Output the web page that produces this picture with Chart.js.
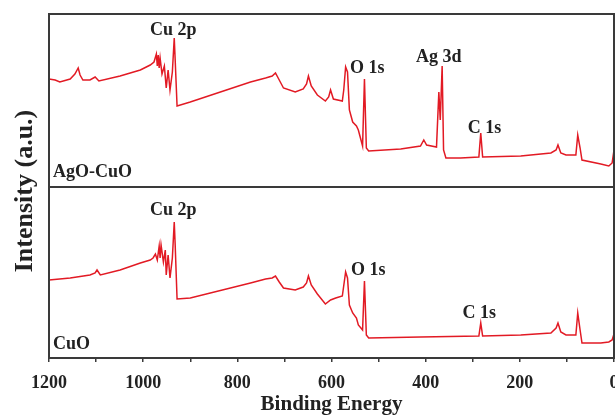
<!DOCTYPE html>
<html>
<head>
<meta charset="utf-8">
<script src="https://cdn.jsdelivr.net/npm/chart.js@4.4.1/dist/chart.umd.min.js"></script>
<style>
  html, body { margin: 0; padding: 0; background: #fff; }
</style>
</head>
<body>
<canvas id="xps" width="615" height="417"></canvas>
<script>
// XPS survey spectra, binding energy (eV) vs intensity (a.u.)
const energyAgCu = [1200, 1187, 1177, 1155, 1145, 1138, 1134, 1128, 1113, 1102, 1094, 1049, 1006, 985, 977,
  972, 970, 968, 966, 964, 960, 955, 951, 947, 943, 938, 934, 932, 928, 900, 772, 740, 726, 719, 711, 702,
  677, 660, 653, 649, 643, 630, 613, 606, 602, 596, 577, 574, 570, 566, 562, 555, 547, 543, 534, 530, 526,
  521, 453, 411, 404, 398, 377, 372, 369, 365, 362, 357, 326, 287, 283, 279, 198, 134, 123, 119, 113, 102,
  81, 77, 72, 68, 28, 11, 4, 0];
const intensityAgCu = [108, 107, 105, 108, 113, 119, 112, 107, 107, 110, 106, 111, 117, 122, 125,
  133, 121, 132, 119, 129, 113, 121, 99, 117, 97, 115, 149, 127, 81, 85, 105, 109, 111, 114, 107, 99,
  95, 98, 103, 111, 101, 92, 86, 90, 97, 88, 86, 97, 120, 115, 77, 65, 61, 57, 41, 108, 39,
  36, 38, 41, 47, 42, 40, 95, 67, 121, 37, 29, 29, 30, 54, 30, 31, 34, 37, 42, 34, 32,
  32, 52, 39, 27, 23, 21, 24, 37];

const energyCuO = [1200, 1155, 1113, 1102, 1098, 1091, 1049, 1006, 985, 979, 974, 970, 966, 964, 962,
  957, 953, 951, 947, 943, 938, 934, 932, 928, 900, 772, 740, 726, 719, 711, 702, 677, 660, 653, 649,
  643, 630, 613, 602, 591, 577, 570, 566, 562, 555, 547, 543, 534, 530, 526, 521, 411, 287, 283, 279,
  198, 134, 123, 119, 113, 102, 81, 77, 72, 68, 28, 11, 4, 0];
const intensityCuO = [78, 80, 83, 85, 88, 83, 88, 95, 98, 100, 104, 98, 112, 100, 113,
  96, 108, 83, 103, 80, 100, 136, 113, 59, 60, 75, 79, 80, 82, 76, 70, 68, 71, 75, 82,
  73, 64, 54, 58, 60, 62, 86, 80, 53, 45, 40, 33, 28, 77, 23, 20, 21, 22, 35, 22,
  23, 25, 30, 35, 26, 23, 23, 45, 28, 15, 15, 16, 18, 24];

const energyTicks = [1200, 1000, 800, 600, 400, 200, 0];

// peak annotations: name, panel, binding energy, height in that panel
const peakNames = ['Cu 2p', 'O 1s', 'Ag 3d', 'C 1s', 'Cu 2p', 'O 1s', 'C 1s'];
const peakPanel = ['yTop', 'yTop', 'yTop', 'yTop', 'yBot', 'yBot', 'yBot'];
const peakEnergy = [936, 524, 372, 275, 936, 522, 286];
const peakHeight = [157, 119, 130, 59, 148, 88, 45];

const sampleNames = ['AgO-CuO', 'CuO'];

const serif = '"Liberation Serif", "DejaVu Serif", serif';
const ink = '#222';
const red = 'rgb(226, 26, 36)';

const toPoints = (xs, ys) => xs.map((x, i) => ({ x: x, y: ys[i] }));

const decor = {
  id: 'decor',
  afterDraw(chart) {
    const { ctx, chartArea: a, scales } = chart;
    const x = scales.x;
    ctx.save();
    // frame and divider between the two spectra
    ctx.strokeStyle = '#3a3a3a';
    ctx.lineWidth = 2;
    ctx.strokeRect(a.left, a.top, a.right - a.left, a.bottom - a.top);
    ctx.beginPath();
    ctx.moveTo(a.left, scales.yTop.bottom);
    ctx.lineTo(a.right, scales.yTop.bottom);
    ctx.stroke();

    ctx.fillStyle = ink;
    ctx.font = 'bold 18px ' + serif;
    ctx.textAlign = 'center';
    ctx.textBaseline = 'middle';
    peakNames.forEach((name, i) => {
      ctx.fillText(name, x.getPixelForValue(peakEnergy[i]), scales[peakPanel[i]].getPixelForValue(peakHeight[i]));
    });

    ctx.textAlign = 'left';
    ctx.textBaseline = 'bottom';
    ctx.fillText(sampleNames[0], a.left + 4, scales.yTop.bottom - 6);
    ctx.fillText(sampleNames[1], a.left + 4, scales.yBot.bottom - 5);

    // y title spanning both panels
    ctx.translate(25, (a.top + a.bottom) / 2 + 5);
    ctx.rotate(-Math.PI / 2);
    ctx.textAlign = 'center';
    ctx.textBaseline = 'middle';
    ctx.font = 'bold 26px ' + serif;
    ctx.fillText('Intensity (a.u.)', 0, 0);
    ctx.restore();
  }
};

const hiddenY = (max, weight) => ({
  type: 'linear',
  min: 0,
  max: max,
  stack: 'xps',
  stackWeight: max,
  weight: weight,
  ticks: { display: false },
  grid: { display: false },
  border: { display: false },
  afterFit(s) { s.width = 0; }
});

new Chart(document.getElementById('xps'), {
  type: 'line',
  data: {
    datasets: [
      {
        label: sampleNames[0],
        data: toPoints(energyAgCu, intensityAgCu),
        yAxisID: 'yTop',
        borderColor: red,
        borderWidth: 1.5,
        pointRadius: 0,
        tension: 0
      },
      {
        label: sampleNames[1],
        data: toPoints(energyCuO, intensityCuO),
        yAxisID: 'yBot',
        borderColor: red,
        borderWidth: 1.5,
        pointRadius: 0,
        tension: 0
      }
    ]
  },
  options: {
    responsive: false,
    animation: false,
    layout: { padding: { left: 49, right: 1, top: 14, bottom: 0 } },
    plugins: { legend: { display: false }, tooltip: { enabled: false } },
    scales: {
      x: {
        type: 'linear',
        reverse: true,
        min: 0,
        max: 1200,
        ticks: {
          stepSize: 100,
          autoSkip: false,
          maxRotation: 0,
          padding: 11,
          color: ink,
          font: { family: serif, size: 18, weight: 'bold' },
          callback: v => energyTicks.includes(v) ? String(v) : ''
        },
        grid: { drawOnChartArea: false, drawTicks: true, tickLength: 4, color: '#3a3a3a', lineWidth: 1.5 },
        border: { display: false },
        title: {
          display: true,
          text: 'Binding Energy',
          color: ink,
          font: { family: serif, size: 21, weight: 'bold' },
          padding: { top: 0, bottom: 0 }
        },
        afterFit(s) { s.height = 59; s.paddingLeft = 0; s.paddingRight = 0; }
      },
      yTop: hiddenY(173, 2),
      yBot: hiddenY(171, 1)
    }
  },
  plugins: [decor]
});
</script>
</body>
</html>
